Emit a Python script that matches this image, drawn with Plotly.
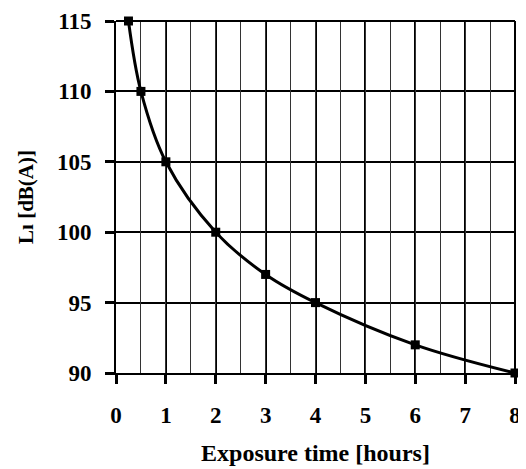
import plotly.graph_objects as go

hours = [0.25, 0.5, 1, 2, 3, 4, 6, 8]
level_dba = [115, 110, 105, 100, 97, 95, 92, 90]
x_ticks = [0, 1, 2, 3, 4, 5, 6, 7, 8]
y_ticks = [90, 95, 100, 105, 110, 115]

FONT = "Liberation Serif"

fig = go.Figure()
fig.add_trace(go.Scatter(
    x=hours, y=level_dba, mode="lines+markers",
    line=dict(color="black", width=3, shape="spline", smoothing=1.0),
    marker=dict(symbol="square", size=9, color="black"),
    cliponaxis=False, showlegend=False,
))

fig.update_layout(
    width=526, height=469,
    margin=dict(l=108, r=19, t=13, b=104),
    plot_bgcolor="white", paper_bgcolor="white",
    font=dict(family=FONT, size=23, color="black"),
    xaxis2=dict(
        range=[0, 8], dtick=0.5, tick0=0, overlaying="x", showgrid=True,
        gridcolor="#333", gridwidth=1, showticklabels=False, ticks="",
        zeroline=False, showline=False, fixedrange=True, layer="below traces",
    ),
    xaxis=dict(
        range=[0, 8], tickmode="array", tickvals=x_ticks, ticktext=[f"<b>{v}</b>" for v in x_ticks],
        ticks="outside", ticklen=9, tickwidth=2.5,
        tickcolor="black", showline=True, linecolor="black", linewidth=2,
        showgrid=True, gridcolor="black", gridwidth=2, zeroline=False,
        tickfont=dict(family=FONT, size=23, color="black"),
        ticklabelstandoff=11,
        automargin=False,
        title=dict(text="<b>Exposure time [hours]</b>", font=dict(family=FONT, size=24), standoff=18),
        fixedrange=True,
    ),
    yaxis=dict(
        range=[90, 115], tickmode="array", tickvals=y_ticks, ticktext=[f"<b>{v}</b>" for v in y_ticks],
        ticks="outside", ticklen=9, tickwidth=2.5,
        tickcolor="black", showline=True, linecolor="black", linewidth=2,
        showgrid=True, gridcolor="black", gridwidth=2, zeroline=False,
        tickfont=dict(family=FONT, size=23, color="black"),
        ticklabelstandoff=9, ticklabeloverflow="allow",
        automargin=False,
        title=dict(text="<b>Lı [dB(A)]</b>", font=dict(family=FONT, size=21), standoff=18),
        fixedrange=True,
    ),
)
# invisible helper trace so the half-hour grid axis is drawn
fig.add_trace(go.Scatter(x=[hours[0]], y=[level_dba[0]], xaxis="x2", mode="markers",
                         marker=dict(opacity=0), hoverinfo="skip", showlegend=False))
fig.add_shape(type="line", xref="paper", yref="paper", x0=0, x1=1, y0=1, y1=1,
              line=dict(color="black", width=2))
fig.add_shape(type="line", xref="paper", yref="paper", x0=1, x1=1, y0=0, y1=1,
              line=dict(color="black", width=2))

fig.write_html("out.html")
